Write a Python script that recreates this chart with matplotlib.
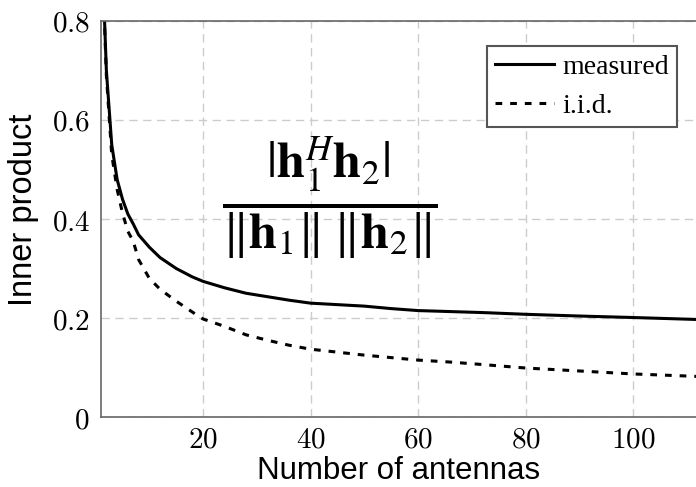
import matplotlib
matplotlib.use('Agg')
import matplotlib.pyplot as plt
from matplotlib.ticker import FuncFormatter

# values
antennas = [1, 2, 3, 4, 5, 6, 7, 8, 10, 12, 15, 18, 20, 24, 28, 32, 36,
            40, 45, 50, 55, 60, 66, 72, 80, 90, 100, 112]
measured = [1.0, 0.70, 0.55, 0.48, 0.44, 0.41, 0.39, 0.368, 0.343, 0.322,
            0.300, 0.283, 0.274, 0.261, 0.250, 0.243, 0.236, 0.230, 0.227,
            0.224, 0.219, 0.215, 0.213, 0.211, 0.2075, 0.204, 0.201, 0.197]
iid = [1.0, 0.69, 0.53, 0.46, 0.412, 0.375, 0.355, 0.318, 0.280, 0.258,
       0.234, 0.212, 0.198, 0.183, 0.166, 0.155, 0.145, 0.137, 0.131,
       0.125, 0.120, 0.115, 0.111, 0.106, 0.099, 0.093, 0.087, 0.082]

x_ticks = [20, 40, 60, 80, 100]
y_ticks = [0, 0.2, 0.4, 0.6, 0.8]

plt.rcParams['font.family'] = ['Liberation Sans', 'DejaVu Sans']
plt.rcParams['mathtext.fontset'] = 'cm'

fig = plt.figure(figsize=(6.96, 4.87), dpi=100)
ax = fig.add_axes([0.1451, 0.1437, 0.8549, 0.8132])

ax.plot(antennas, measured, color='black', lw=2.2, label='measured')
ax.plot(antennas, iid, color='black', lw=2.2, linestyle=(0, (2.2, 2.6)),
        label='i.i.d.')

ax.set_xlim(1, 111.7)
ax.set_ylim(0, 0.8)
ax.set_xticks(x_ticks)
ax.set_yticks(y_ticks)
ax.xaxis.set_major_formatter(FuncFormatter(lambda v, p: '$%g$' % v))
ax.yaxis.set_major_formatter(FuncFormatter(lambda v, p: '$%g$' % v))
ax.tick_params(length=0, labelsize=21, pad=8)
ax.tick_params(axis='x', pad=6)

ax.grid(True, color='#cccccc', linestyle=(0, (6, 4)), lw=1)
ax.set_axisbelow(True)
for side in ['left', 'bottom', 'top']:
    ax.spines[side].set_color('#666666')
    ax.spines[side].set_linewidth(1.2)
ax.spines['right'].set_visible(False)

ax.set_xlabel('Number of antennas', fontsize=22.5, labelpad=2)
ax.set_ylabel('Inner product', fontsize=23.5)
ax.yaxis.set_label_coords(-0.104, 0.523)

leg = ax.legend(loc='upper right', bbox_to_anchor=(0.968, 0.937),
                borderaxespad=0,
                prop={'family': 'Liberation Serif', 'size': 20},
                fancybox=False, framealpha=1, edgecolor='#555555',
                handlelength=2.1, handletextpad=0.3, borderpad=0.3,
                labelspacing=0.5)
leg.get_frame().set_linewidth(1.5)

fig.text(0.474, 0.595,
         r'$\frac{|\mathbf{h}_1^H\mathbf{h}_2|}'
         r'{\|\mathbf{h}_1\|\;\|\mathbf{h}_2\|}$',
         fontsize=52, ha='center', va='center', math_fontfamily='stix')

fig.savefig('out.png', dpi=100)
